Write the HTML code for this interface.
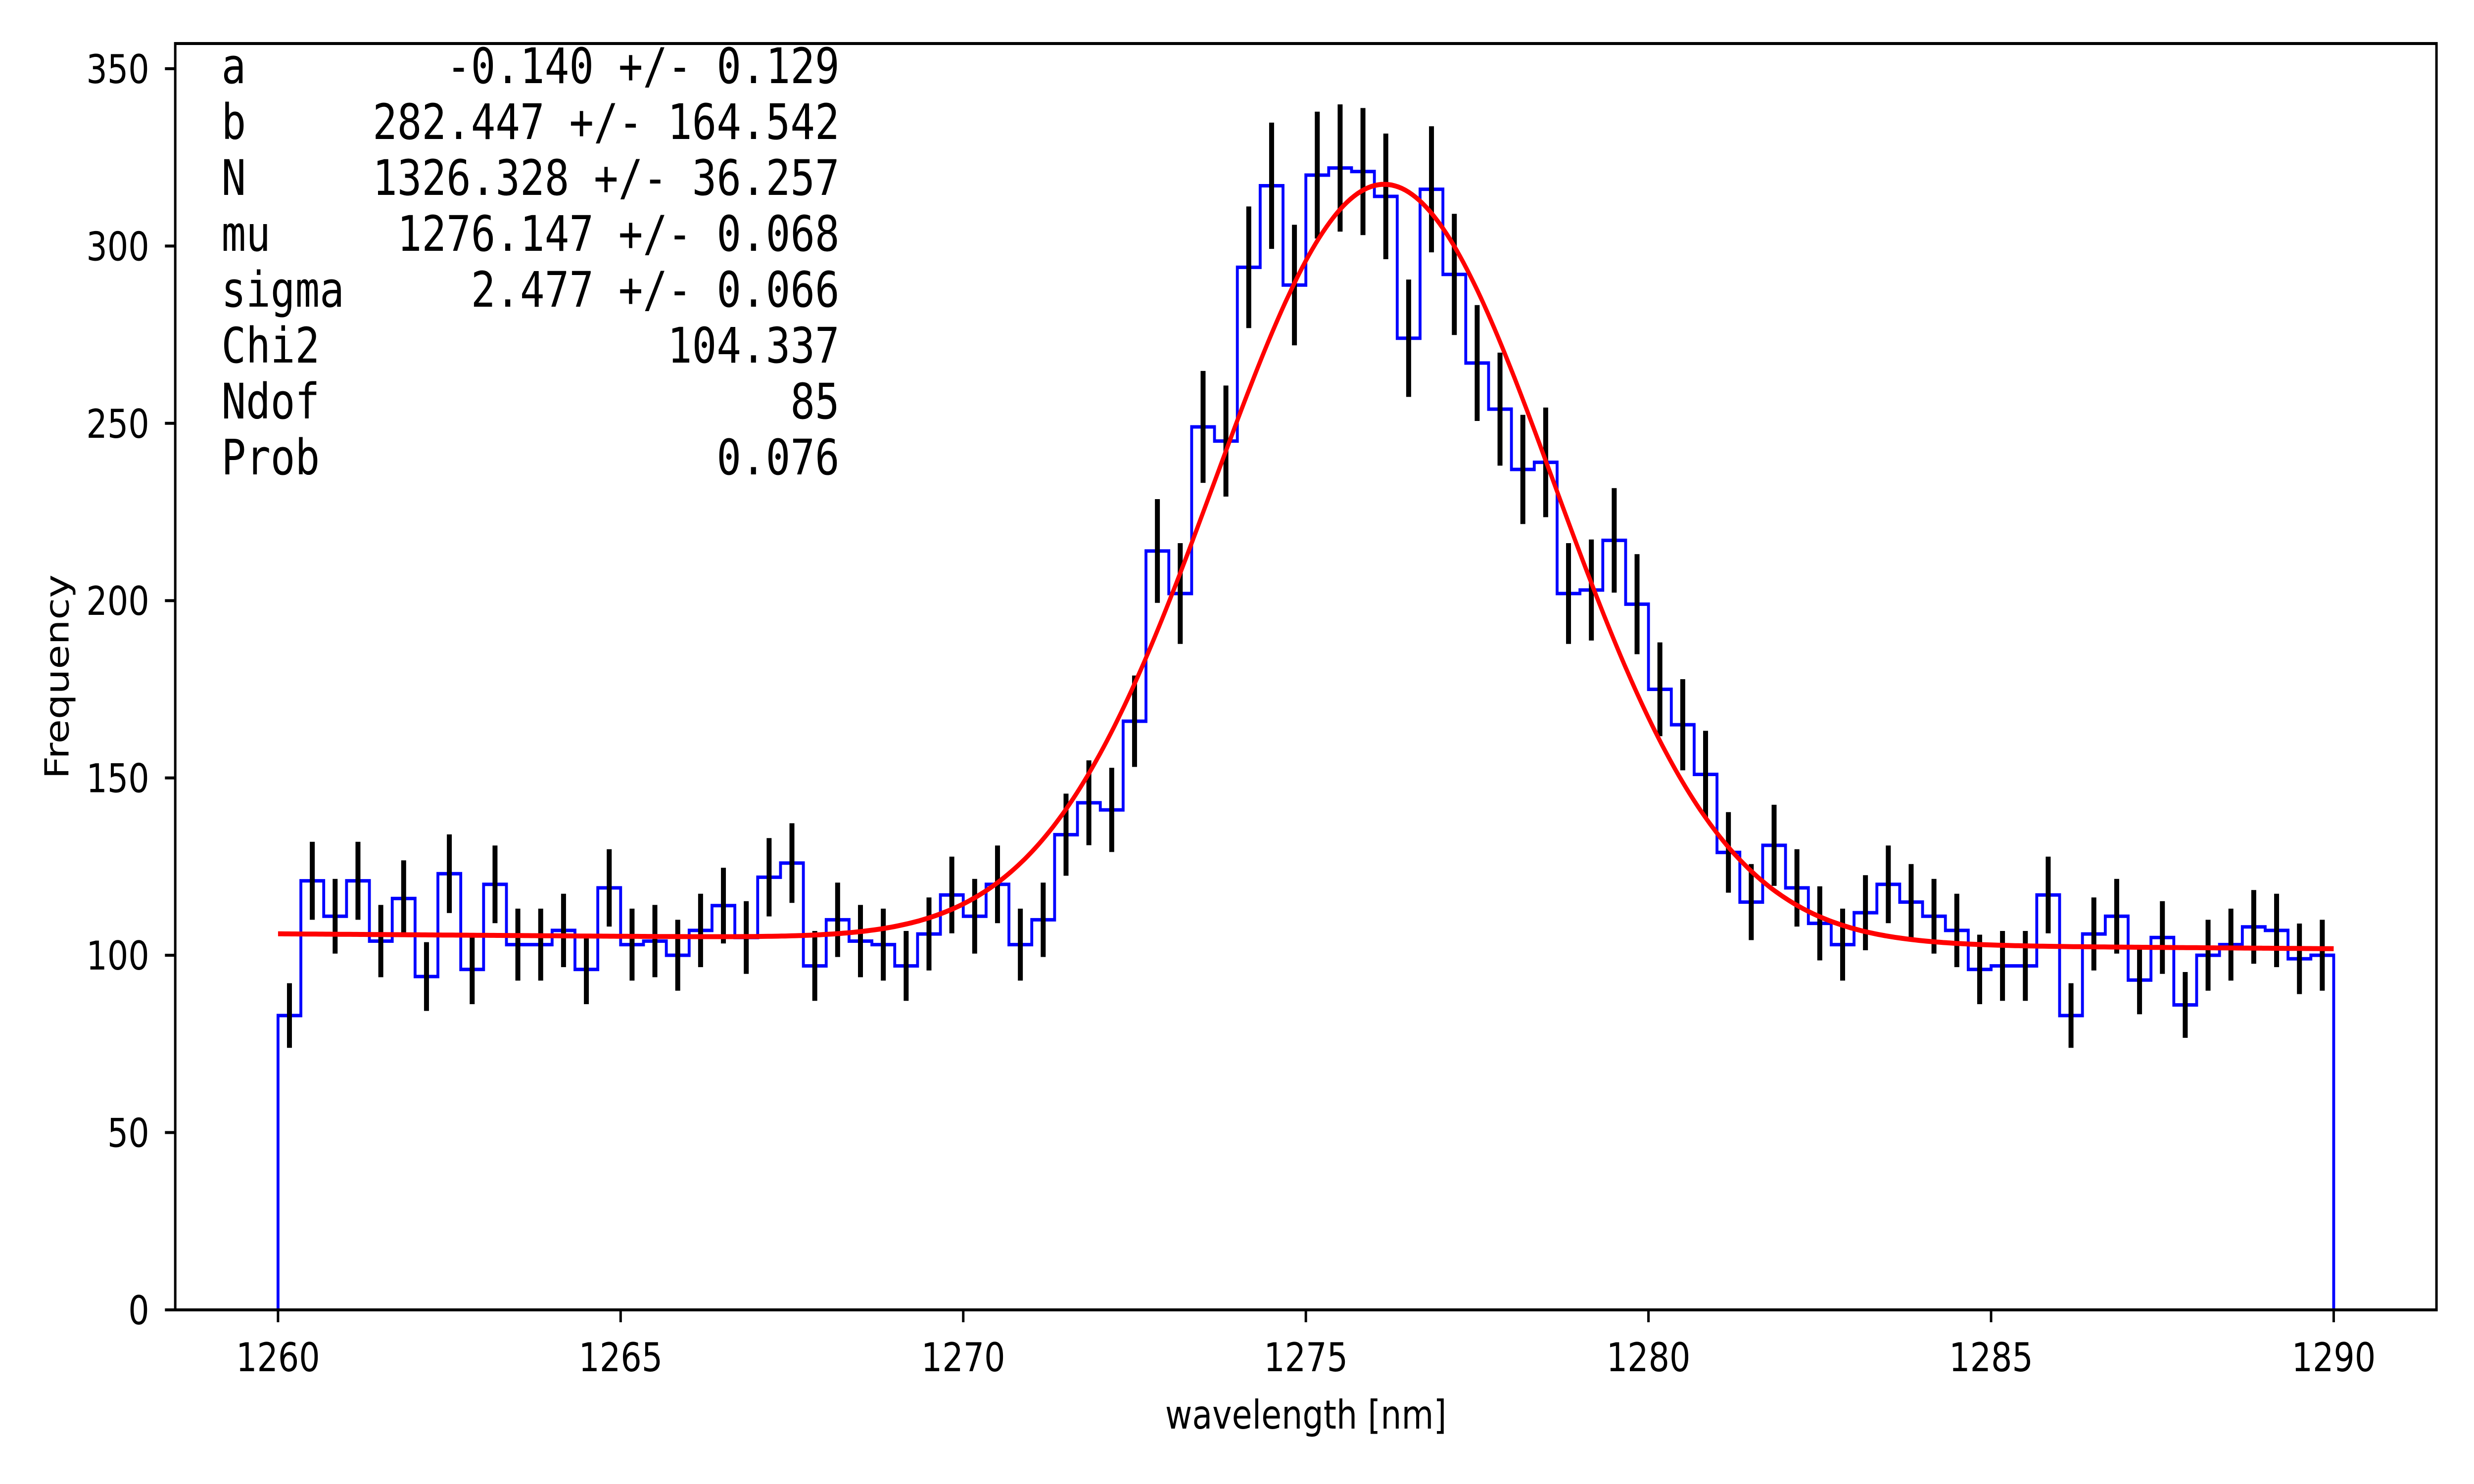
<!DOCTYPE html>
<html><head><meta charset="utf-8"><style>
html,body{margin:0;padding:0;background:#fff;width:100%;height:100%;overflow:hidden;}
svg{display:block;width:100vw;height:100vh;}
text{font-family:"DejaVu Sans","Liberation Sans",sans-serif;}
.mono{font-family:"DejaVu Sans Mono","Liberation Mono",monospace;font-size:99px;}
</style></head><body>
<svg id="chart" xmlns="http://www.w3.org/2000/svg" viewBox="0 0 6000 3000" preserveAspectRatio="none">
<rect x="0" y="0" width="6000" height="3000" fill="#fff"/>
<g id="plot"></g>
<rect x="425" y="88" width="5484" height="2560" fill="none" stroke="#000" stroke-width="6"/>
<g id="ticks"></g>
<text x="3167" y="2888" font-size="80" text-anchor="middle">wavelength [nm]</text>
<text transform="translate(166,1368) rotate(-90)" font-size="80" text-anchor="middle">Frequency</text>
<g id="fitbox"></g>
</svg>
<script>
const binStart = 1260;
const binWidth = 1/3;
const counts = [83,121,111,121,104,116,94,123,96,120,
103,103,107,96,119,103,104,100,107,114,
105,122,126,97,110,104,103,97,106,117,
111,120,103,110,134,143,141,166,214,202,
249,245,294,317,289,320,322,321,314,274,
316,292,267,254,237,239,202,203,217,199,
175,165,151,129,115,131,119,109,103,112,
120,115,111,107,96,97,97,117,83,106,
111,93,105,86,100,103,108,107,99,100];
const fitA = -0.140, fitB = 282.447, fitN = 1326.328, fitMu = 1276.147, fitSigma = 2.477;
const xTicks = [1260,1265,1270,1275,1280,1285,1290];
const yTicks = [0,50,100,150,200,250,300,350];
const fitLabels = ["a","b","N","mu","sigma","Chi2","Ndof","Prob"];
const fitValues = ["-0.140 +/- 0.129","282.447 +/- 164.542","1326.328 +/- 36.257","1276.147 +/- 0.068","2.477 +/- 0.066","104.337","85","0.076"];

const X0=425,X1=5909,Y0=2648,Y1=88, xmin=1258.5,xmax=1291.5,ymin=0,ymax=357.1;
const sx=v=>X0+(v-xmin)/(xmax-xmin)*(X1-X0);
const sy=v=>Y0-(v-ymin)/(ymax-ymin)*(Y0-Y1);
const NS="http://www.w3.org/2000/svg";
function mk(tag,attrs,parent){const e=document.createElementNS(NS,tag);for(const k in attrs)e.setAttribute(k,attrs[k]);parent.appendChild(e);return e;}
const plot=document.getElementById('plot');

let d=`M${sx(binStart)},${sy(0)}`;
counts.forEach((c,i)=>{const a=binStart+i*binWidth,b=a+binWidth;d+=` L${sx(a)},${sy(c)} L${sx(b)},${sy(c)}`;});
d+=` L${sx(binStart+counts.length*binWidth)},${sy(0)}`;
const hist=mk('path',{d:d,fill:'none',stroke:'#0000ff','stroke-width':7},plot);



counts.forEach((c,i)=>{
  const xc=binStart+(i+0.5)*binWidth,e=Math.sqrt(c);
  const l=mk('line',{x1:sx(xc),x2:sx(xc),y1:sy(c-e),y2:sy(c+e),stroke:'#000','stroke-width':12},plot);
  
  
});

let fd='';
for(let k=0;k<=600;k++){const x=1260+30*k/600;
  const y=fitA*x+fitB+fitN/(Math.sqrt(2*Math.PI)*fitSigma)*Math.exp(-0.5*((x-fitMu)/fitSigma)**2);
  fd+=(k?' L':'M')+sx(x).toFixed(1)+','+sy(y).toFixed(1);}
const fit=mk('path',{d:fd,fill:'none',stroke:'#ff0000','stroke-width':10},plot);



const tg=document.getElementById('ticks');
xTicks.forEach(v=>{
  const t=mk('line',{x1:sx(v),x2:sx(v),y1:Y0,y2:Y0+25,stroke:'#000','stroke-width':6},tg);
  
  
  const l=mk('text',{x:sx(v),y:2772,'font-size':80,'text-anchor':'middle'},tg);
  
  
  l.textContent=v;
});
yTicks.forEach(v=>{
  const t=mk('line',{x1:X0-25,x2:X0,y1:sy(v),y2:sy(v),stroke:'#000','stroke-width':6},tg);
  
  
  const l=mk('text',{x:362,y:sy(v)+29,'font-size':80,'text-anchor':'end'},tg);
  
  
  l.textContent=v;
});

const fb=document.getElementById('fitbox');
fitLabels.forEach((s,i)=>{
  const y=168+i*113;
  const a=mk('text',{x:537,y:y,class:'mono'},fb);
  
  
  a.textContent=s;
  const b=mk('text',{x:2036,y:y,class:'mono','text-anchor':'end'},fb);
  
  
  b.textContent=fitValues[i];
});
</script>
</body></html>
